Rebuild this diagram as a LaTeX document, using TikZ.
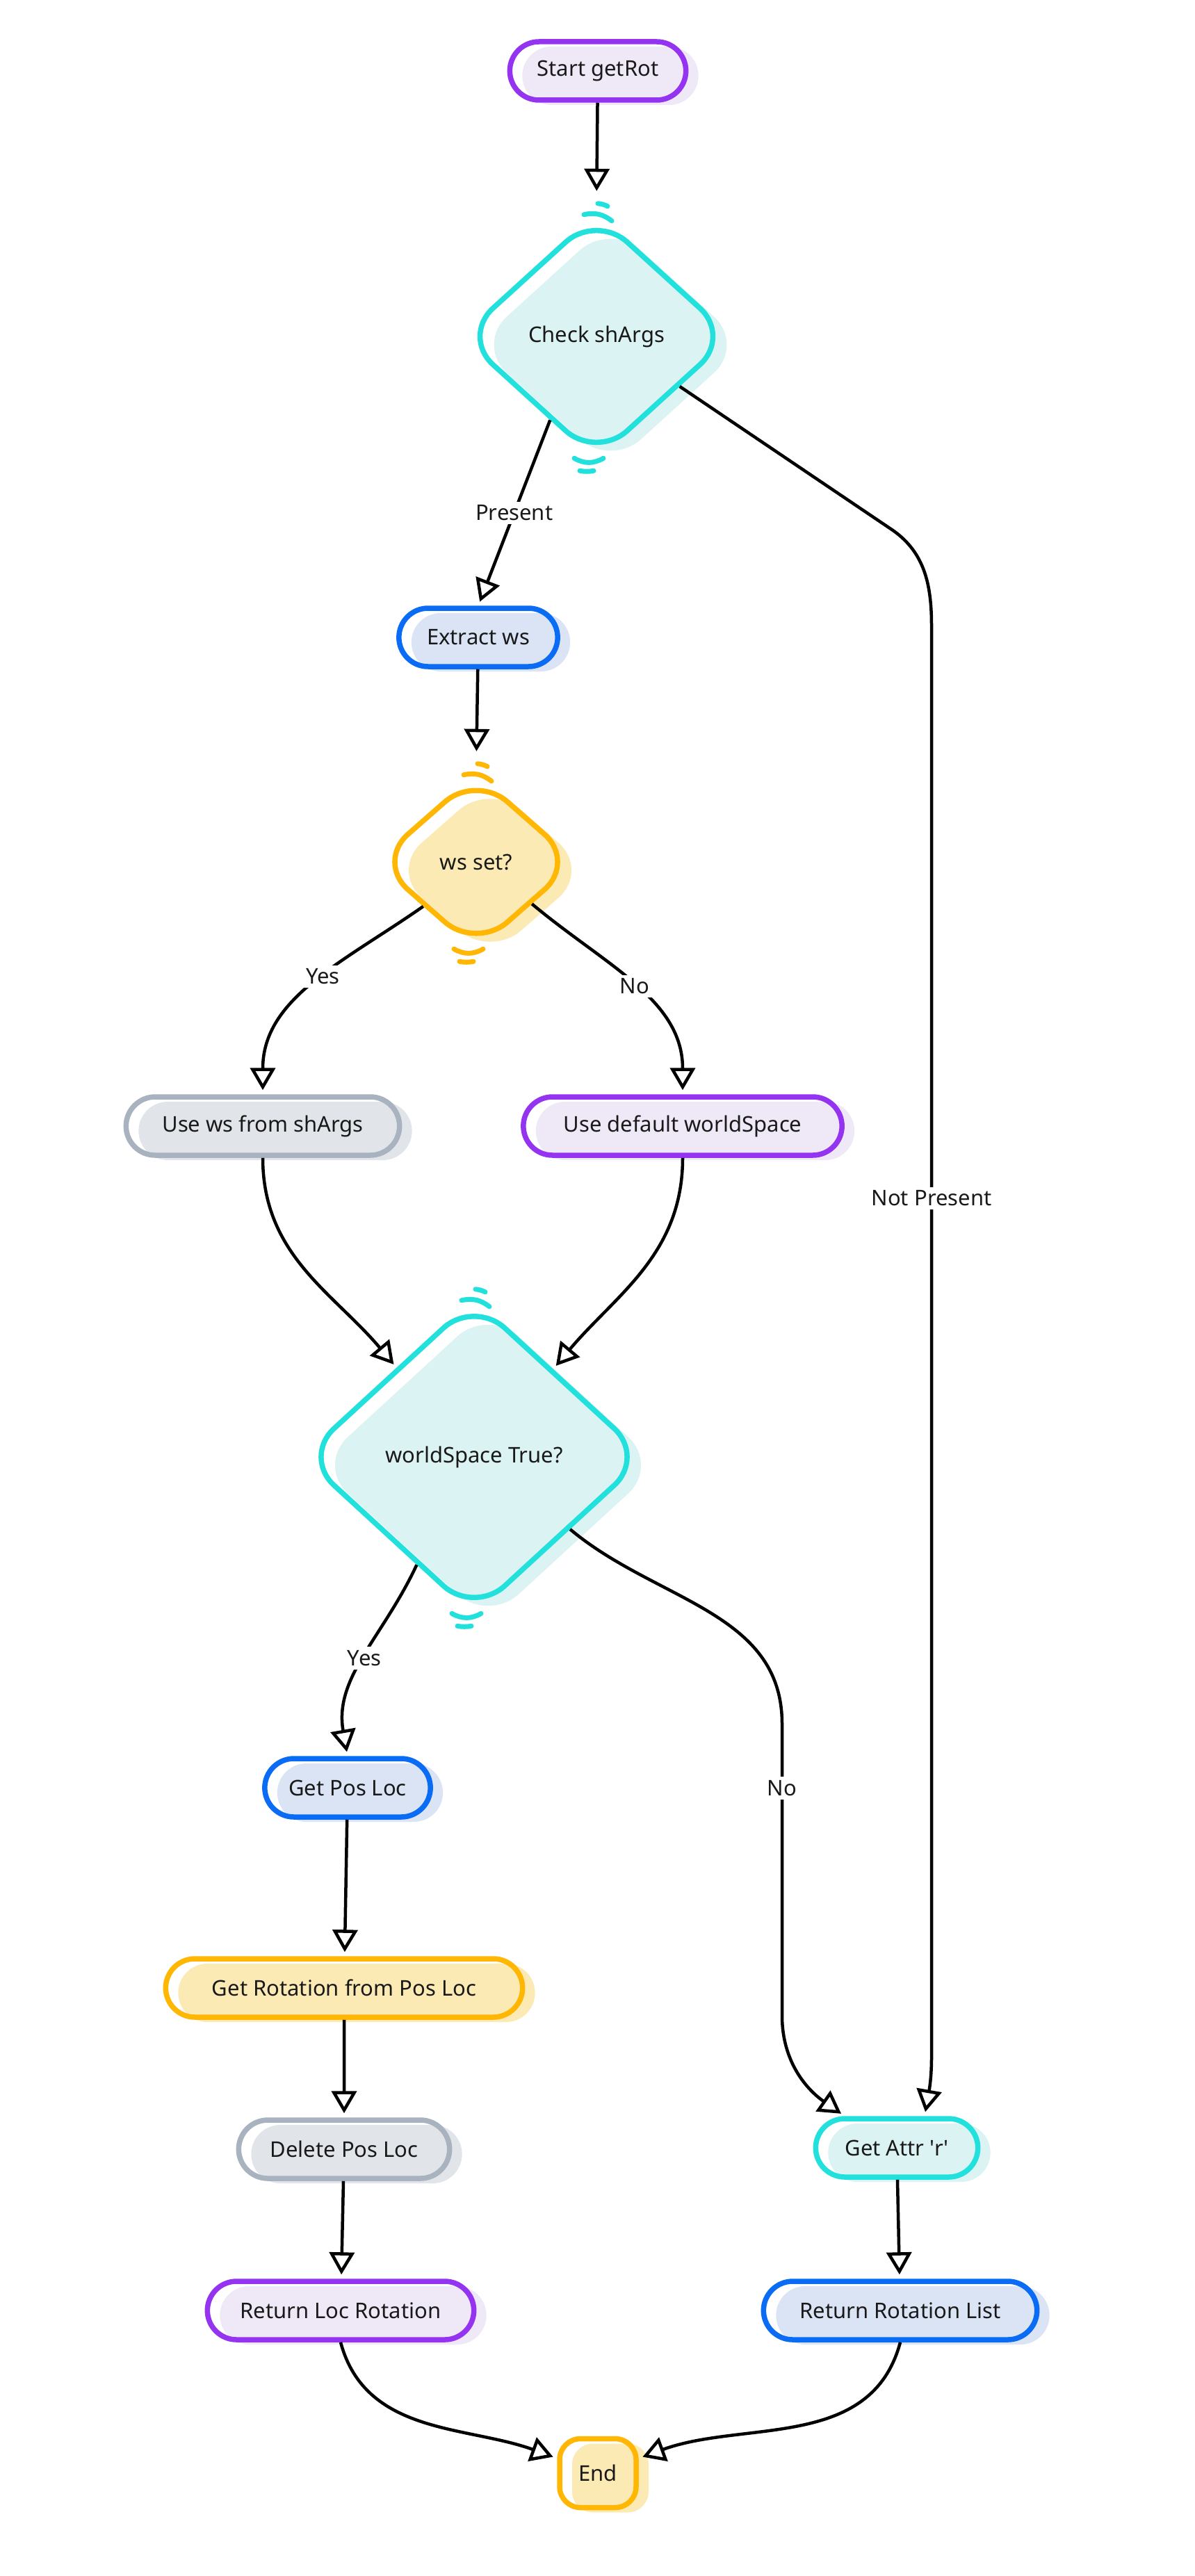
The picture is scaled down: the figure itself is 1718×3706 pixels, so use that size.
\documentclass[tikz,border=0pt]{standalone}
\usepackage{fontspec}
\setmainfont{Noto Sans}
\usepackage{tikz}
\usetikzlibrary{shapes.geometric, shapes.misc, arrows.meta, calc, shadows}

\definecolor{purS}{HTML}{9534F0}
\definecolor{purF}{HTML}{EEE8F7}
\definecolor{cyaS}{HTML}{22E1DC}
\definecolor{cyaF}{HTML}{DBF3F2}
\definecolor{bluS}{HTML}{0A6CF5}
\definecolor{bluF}{HTML}{DAE4F5}
\definecolor{yelS}{HTML}{FFB703}
\definecolor{yelF}{HTML}{FCEAB5}
\definecolor{gryS}{HTML}{A8B3BF}
\definecolor{gryF}{HTML}{E1E5EA}

\tikzset{
    pill/.style 2 args={rounded rectangle, draw=#1, line width=7.5pt, minimum height=84pt,
        general shadow={fill=#2, shadow xshift=18pt, shadow yshift=-7pt}},
    dec/.style 2 args={diamond, draw=#1, line width=7.5pt, rounded corners=60pt, inner sep=0pt,
        general shadow={fill=#2, shadow xshift=20pt, shadow yshift=-12pt}},
    arr/.style={draw=black, line width=4.5pt, shorten >=6pt, -{Triangle[open, length=32pt, width=36pt]}},
    lbl/.style={fill=white, inner sep=5pt},
}

\begin{document}
\begin{tikzpicture}[x=1pt, y=1pt, every node/.style={font=\fontsize{31}{36}\selectfont, text=black!90}]
    \useasboundingbox[fill=white] (0,0) rectangle (1718,-3706);

    % main column
    \node[pill={purS}{purF}, minimum width=260pt] (start) at (860,-102) {Start getRot};
    \node[dec={cyaS}{cyaF}, minimum width=390pt, minimum height=355pt] (check) at (858,-484) {Check shArgs};
    \node[pill={bluS}{bluF}, minimum width=235pt] (extract) at (688,-917) {Extract ws};
    \node[dec={yelS}{yelF}, minimum width=290pt, minimum height=255pt] (wsset) at (685,-1240) {ws set?};
    \node[pill={gryS}{gryF}, minimum width=400pt] (usews) at (378,-1620) {Use ws from shArgs};
    \node[pill={purS}{purF}, minimum width=465pt] (usedef) at (982,-1620) {Use default worldSpace};
    \node[dec={cyaS}{cyaF}, minimum width=495pt, minimum height=455pt] (wstrue) at (682,-2096) {worldSpace True?};

    % left branch
    \node[pill={bluS}{bluF}, minimum width=245pt] (getpos) at (500,-2572) {Get Pos Loc};
    \node[pill={yelS}{yelF}, minimum width=520pt] (getrot) at (495,-2860) {Get Rotation from Pos Loc};
    \node[pill={gryS}{gryF}, minimum width=310pt] (delpos) at (495,-3092) {Delete Pos Loc};
    \node[pill={purS}{purF}, minimum width=390pt] (retloc) at (490,-3324) {Return Loc Rotation};

    % right branch
    \node[pill={cyaS}{cyaF}, minimum width=240pt] (getattr) at (1290,-3090) {Get Attr \textquotesingle r\textquotesingle};
    \node[pill={bluS}{bluF}, minimum width=400pt] (retlist) at (1295,-3324) {Return Rotation List};

    \node[pill={yelS}{yelF}, rectangle, rounded corners=30pt, minimum width=110pt, minimum height=99pt] (end) at (860,-3558) {End};

    % little strokes above and below the decisions
    \foreach \d/\c in {check/cyaS, wsset/yelS, wstrue/cyaS} {
        \draw[\c, line width=7pt, line cap=round] ($(\d.north)+(-18,-6)$) to[bend left=25] ($(\d.north)+(22,-15)$);
        \draw[\c, line width=7pt, line cap=round] ($(\d.north)+(2,10)$) to[bend left=10] ($(\d.north)+(16,6)$);
        \draw[\c, line width=7pt, line cap=round] ($(\d.south)+(-32,6)$) to[bend right=30] ($(\d.south)+(10,6)$);
        \draw[\c, line width=7pt, line cap=round] ($(\d.south)+(-24,-12)$) to[bend right=10] ($(\d.south)+(-4,-12)$);
    }

    % arrows
    \draw[arr, shorten >=28pt] (start) -- (check.north);
    \draw[arr] (check.-119) -- node[lbl]{Present} (extract.north);
    \draw[arr] (check.-31) -- (1280,-760) to[out=-33,in=90] (1340,-900)
        -- node[lbl, pos=.4]{Not Present} (1340,-2960) to[out=-90,in=80] ($(getattr.north)+(40,0)$);
    \draw[arr, shorten >=28pt] (extract) -- (wsset.north);
    \draw[arr] (wsset.220) to[out=-145,in=90] node[lbl, pos=.45]{Yes} (usews.north);
    \draw[arr] (wsset.-37) to[out=-40,in=90] node[lbl]{No} (usedef.north);
    \draw[arr] (usews.south) to[out=-90,in=130] (wstrue.131);
    \draw[arr] (usedef.south) to[out=-90,in=50] (wstrue.48);
    \draw[arr] (wstrue.-118) to[out=-115,in=100] node[lbl]{Yes} (getpos.north);
    \draw[arr] (wstrue.-37) to[out=-40,in=90] (1125,-2480)
        -- node[lbl, pos=.22]{No} (1125,-2900) to[out=-90,in=145] ($(getattr.north)+(-75,0)$);
    \draw[arr] (getpos) -- (getrot);
    \draw[arr] (getrot) -- (delpos);
    \draw[arr] (delpos) -- (retloc);
    \draw[arr] (getattr) -- (retlist);
    \draw[arr] (retloc.south) to[out=-75,in=160] (end.160);
    \draw[arr] (retlist.south) to[out=-105,in=20] (end.20);
\end{tikzpicture}
\end{document}
